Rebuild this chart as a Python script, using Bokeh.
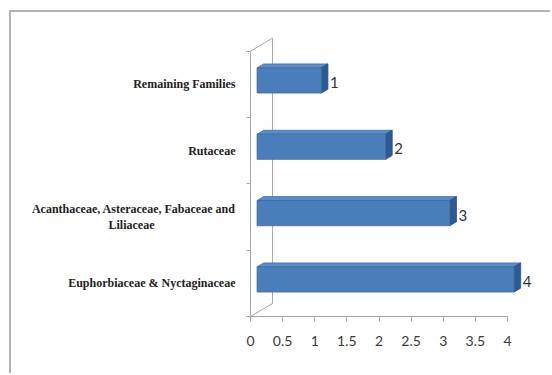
from bokeh.plotting import figure
from bokeh.models import Range1d, LinearAxis, FixedTicker
from bokeh.core.properties import value
from bokeh.embed import file_html
from bokeh.resources import INLINE

# ---- data ----
families = [
    "Euphorbiaceae & Nyctaginaceae",
    "Acanthaceae, Asteraceae, Fabaceae and\nLiliaceae" + "\u00a0" * 27,
    "Rutaceae",
    "Remaining Families",
]
counts = [4, 3, 2, 1]
x_ticks = [0, 0.5, 1, 1.5, 2, 2.5, 3, 3.5, 4]
x_tick_labels = ["0", "0.5", "1", "1.5", "2", "2.5", "3", "3.5", "4"]

# ---- 3D styling constants (in axis units) ----
DX, DY = 0.342, 0.196          # depth of the back wall
BX, BY = 0.3 * DX, 0.3 * DY    # bar front offset / bar depth
BAR_H = 0.38

n = len(families)
border = "2px solid #b4b4b4"
p = figure(width=541, height=363, output_backend="svg", toolbar_location=None,
           x_range=Range1d(0, 4.70), y_range=Range1d(0, 4.583),
           min_border_left=239, min_border_right=0, min_border_top=0,
           min_border_bottom=59, x_axis_location=None, y_axis_location=None,
           styles={"margin-left": "9px", "margin-top": "10px",
                   "border-left": border, "border-top": border})
p.grid.visible = False
p.outline_line_color = None
p.background_fill_color = "white"
p.border_fill_color = "white"

# back wall lines
wall = "#a6a6a6"
p.segment(x0=[0, 0, DX], y0=[0, n, DY], x1=[DX, DX, DX], y1=[DY, n + DY, n + DY],
          line_color=wall, line_width=1)

# bars
ys = [i + 0.5 for i in range(n)]
lefts = [BX] * n
rights = [c + BX for c in counts]
bots = [y - BAR_H / 2 + BY for y in ys]
tops = [y + BAR_H / 2 + BY for y in ys]

top_xs = [[l, r, r + BX, l + BX] for l, r in zip(lefts, rights)]
top_ys = [[t, t, t + BY, t + BY] for t in tops]
side_xs = [[r, r, r + BX, r + BX] for r in rights]
side_ys = [[b, t, t + BY, b + BY] for b, t in zip(bots, tops)]

p.patches(top_xs, top_ys, fill_color="#5b8ccb", line_color="#3f6ea8", line_width=0.8)
p.patches(side_xs, side_ys, fill_color="#2f5a8e", line_color="#2a5080", line_width=0.8)
p.quad(left=lefts, right=rights, bottom=bots, top=tops,
       fill_color="#4a7ebb", line_color="#3c6aa3", line_width=0.8)

# value labels
p.text(x=[r + BX for r in rights], y=[y + 0.03 for y in ys], text=[str(c) for c in counts],
       x_offset=2, text_align="left", text_baseline="middle",
       text_font=value("Lato"), text_font_size="15px", text_color="#333333")

# x axis
xa = LinearAxis(ticker=FixedTicker(ticks=x_ticks), bounds=(0, 4),
                major_label_overrides={t: l for t, l in zip(x_ticks, x_tick_labels)})
xa.axis_line_color = wall
xa.major_tick_line_color = wall
xa.major_tick_out = 5
xa.major_tick_in = 0
xa.minor_tick_out = 0
xa.major_label_standoff = 14
xa.major_label_text_font = "Lato"
xa.major_label_text_font_size = "14px"
xa.major_label_text_color = "#3a3a3a"
p.add_layout(xa, "below")

# category axis
ya = LinearAxis(ticker=FixedTicker(ticks=ys, minor_ticks=list(range(n + 1))), bounds=(0, n),
                major_label_overrides={y: f for y, f in zip(ys, families)})
ya.axis_line_color = wall
ya.major_tick_out = 0
ya.major_tick_in = 0
ya.minor_tick_line_color = wall
ya.minor_tick_out = 4
ya.minor_tick_in = 0
ya.major_label_standoff = 11
ya.major_label_text_font = "Liberation Serif"
ya.major_label_text_font_size = "12px"
ya.major_label_text_font_style = "bold"
ya.major_label_text_color = "#222222"
p.add_layout(ya, "left")

open("out.html", "w").write(file_html(p, INLINE))
